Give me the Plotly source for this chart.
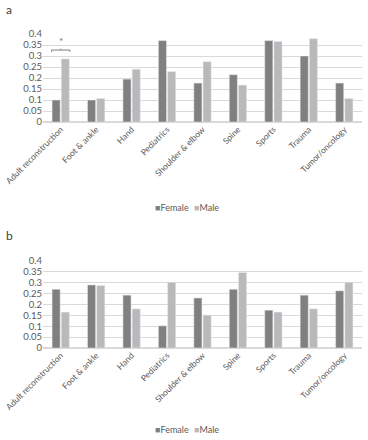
import plotly.graph_objects as go

categories = ["Adult reconstruction", "Foot & ankle", "Hand", "Pediatrics",
              "Shoulder & elbow", "Spine", "Sports", "Trauma", "Tumor/oncology"]
female_a = [0.10, 0.10, 0.195, 0.37, 0.177, 0.215, 0.37, 0.30, 0.177]
male_a = [0.287, 0.107, 0.24, 0.229, 0.274, 0.168, 0.366, 0.379, 0.107]
female_b = [0.27, 0.29, 0.243, 0.102, 0.23, 0.27, 0.174, 0.243, 0.263]
male_b = [0.165, 0.287, 0.18, 0.302, 0.151, 0.347, 0.165, 0.18, 0.302]
tick_vals = [0, 0.05, 0.1, 0.15, 0.2, 0.25, 0.3, 0.35, 0.4]
tick_text = ["0", "0.05", "0.1", "0.15", "0.2", "0.25", "0.3", "0.35", "0.4"]
series_names = ["Female", "Male"]

FEMALE = "#808080"
MALE = "#b9b9b9"
FONT = "Lato"
TXT = "#595959"

fig = go.Figure()
fig.add_trace(go.Bar(x=categories, y=female_a, name=series_names[0], marker_color=FEMALE,
                     xaxis="x", yaxis="y"))
fig.add_trace(go.Bar(x=categories, y=male_a, name=series_names[1], marker_color=MALE,
                     xaxis="x", yaxis="y"))
fig.add_trace(go.Bar(x=categories, y=female_b, name=series_names[0], marker_color=FEMALE,
                     xaxis="x2", yaxis="y2"))
fig.add_trace(go.Bar(x=categories, y=male_b, name=series_names[1], marker_color=MALE,
                     xaxis="x2", yaxis="y2"))

xdom = [43 / 368, 362 / 368]
ax_common = dict(tickangle=-45, tickfont=dict(family=FONT, size=8.5, color=TXT),
                 showgrid=False, showline=False, ticks="", automargin=False)
ay_common = dict(range=[0, 0.4], tickvals=tick_vals, ticktext=tick_text,
                 tickfont=dict(family=FONT, size=9.5, color=TXT),
                 showgrid=True, gridcolor="#d9d9d9", gridwidth=1,
                 zeroline=True, zerolinecolor="#d9d9d9", showline=False,
                 automargin=False, ticks="", ticklen=0)

# significance bracket on the first category of panel a
top_a = max(female_a[0], male_a[0])
yb = top_a + 0.04
shapes = [
    dict(type="line", xref="x", yref="y", x0=-0.26, x1=0.26, y0=yb, y1=yb,
         line=dict(color="#7f7f7f", width=1)),
    dict(type="line", xref="x", yref="y", x0=-0.26, x1=-0.26, y0=yb, y1=yb - 0.008,
         line=dict(color="#7f7f7f", width=1)),
    dict(type="line", xref="x", yref="y", x0=0.26, x1=0.26, y0=yb, y1=yb - 0.008,
         line=dict(color="#7f7f7f", width=1)),
    dict(type="line", xref="x", yref="y", x0=0, x1=0, y0=yb, y1=yb + 0.006,
         line=dict(color="#7f7f7f", width=1)),
]

annotations = [
    dict(text="a", xref="paper", yref="paper", x=4 / 368, y=1 - 10 / 440,
         xanchor="left", yanchor="middle", showarrow=False,
         font=dict(family=FONT, size=12, color="#404040")),
    dict(text="b", xref="paper", yref="paper", x=4 / 368, y=1 - 235 / 440,
         xanchor="left", yanchor="middle", showarrow=False,
         font=dict(family=FONT, size=12, color="#404040")),
    dict(text="*", xref="x", yref="y", x=0, y=yb + 0.006, yanchor="bottom",
         showarrow=False, font=dict(family=FONT, size=10, color="#6f6f6f")),
]
for ly in (207, 429):
    for name, col, lx in ((series_names[0], FEMALE, 154), (series_names[1], MALE, 193)):
        annotations.append(dict(
            text=f"<span style='color:{col}'>■</span>{name}",
            xref="paper", yref="paper", x=lx / 368, y=1 - ly / 440,
            xanchor="left", yanchor="middle", showarrow=False, borderpad=0,
            font=dict(family=FONT, size=9, color=TXT)))

fig.update_layout(
    width=368, height=440,
    margin=dict(l=0, r=0, t=0, b=0),
    paper_bgcolor="white", plot_bgcolor="white",
    barmode="group", bargap=0.48, bargroupgap=0.12,
    showlegend=False,
    xaxis=dict(domain=xdom, anchor="y", **ax_common),
    yaxis=dict(domain=[1 - 122 / 440, 1 - 34 / 440], anchor="x", **ay_common),
    xaxis2=dict(domain=xdom, anchor="y2", **ax_common),
    yaxis2=dict(domain=[1 - 348 / 440, 1 - 261 / 440], anchor="x2", **ay_common),
    shapes=shapes,
    annotations=annotations,
)

fig.write_html("out.html", config={"displayModeBar": False},
               post_script="document.body.style.margin='0';document.body.style.overflow='hidden';")
